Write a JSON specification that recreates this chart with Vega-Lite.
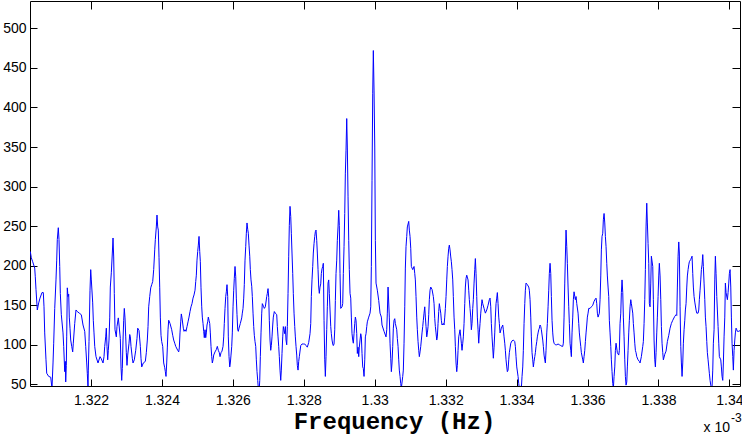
{
"$schema": "https://vega.github.io/schema/vega-lite/v6.json",
"width": 710, "height": 385,
"autosize": {"type": "none"},
"padding": {"left": 30, "top": 1, "right": 2, "bottom": 48},
"background": "white",
"config": {"view": {"stroke": null}, "axis": {"grid": false, "domainColor": "black", "tickColor": "black", "labelColor": "black", "titleColor": "black", "labelFont": "Liberation Sans", "labelFontSize": 14, "domainWidth": 1, "tickWidth": 1}},
"data": {"values": [
{"f":1.320288,"p":218},{"f":1.320317,"p":210},{"f":1.320356,"p":205},{"f":1.320413,"p":197},{"f":1.320429,"p":186},{"f":1.320449,"p":170},{"f":1.320486,"p":144},{"f":1.320525,"p":153},{"f":1.320562,"p":159},{"f":1.320618,"p":166},{"f":1.320655,"p":166},{"f":1.320675,"p":148},{"f":1.320695,"p":115},{"f":1.320731,"p":81},{"f":1.320751,"p":64},{"f":1.320807,"p":60},{"f":1.320864,"p":59},{"f":1.3209,"p":45},{"f":1.320929,"p":77},{"f":1.320948,"p":102},{"f":1.320977,"p":146},{"f":1.321013,"p":182},{"f":1.321033,"p":207},{"f":1.32105,"p":233},{"f":1.321078,"p":248},{"f":1.321098,"p":233},{"f":1.321118,"p":199},{"f":1.321135,"p":165},{"f":1.321163,"p":138},{"f":1.321211,"p":115},{"f":1.32123,"p":98},{"f":1.321259,"p":66},{"f":1.321276,"p":79},{"f":1.321287,"p":53},{"f":1.321304,"p":74},{"f":1.321315,"p":110},{"f":1.321332,"p":172},{"f":1.321352,"p":161},{"f":1.321371,"p":164},{"f":1.321388,"p":135},{"f":1.321408,"p":121},{"f":1.321428,"p":106},{"f":1.321456,"p":98},{"f":1.321484,"p":91},{"f":1.321501,"p":102},{"f":1.321541,"p":127},{"f":1.321577,"p":144},{"f":1.321614,"p":142},{"f":1.32167,"p":140},{"f":1.321727,"p":138},{"f":1.321775,"p":125},{"f":1.321823,"p":117},{"f":1.321851,"p":98},{"f":1.321879,"p":77},{"f":1.321896,"p":64},{"f":1.321916,"p":45},{"f":1.321924,"p":67},{"f":1.321944,"p":104},{"f":1.321972,"p":169},{"f":1.321992,"p":195},{"f":1.322009,"p":182},{"f":1.322048,"p":153},{"f":1.322065,"p":131},{"f":1.322085,"p":115},{"f":1.322105,"p":98},{"f":1.322141,"p":85},{"f":1.322198,"p":77},{"f":1.322254,"p":85},{"f":1.322282,"p":83},{"f":1.322339,"p":77},{"f":1.322367,"p":85},{"f":1.322387,"p":98},{"f":1.322415,"p":110},{"f":1.322432,"p":121},{"f":1.322451,"p":98},{"f":1.322471,"p":81},{"f":1.322488,"p":93},{"f":1.322508,"p":106},{"f":1.322528,"p":134},{"f":1.322545,"p":173},{"f":1.322573,"p":191},{"f":1.322601,"p":216},{"f":1.322621,"p":235},{"f":1.32264,"p":211},{"f":1.322657,"p":165},{"f":1.322677,"p":119},{"f":1.322714,"p":110},{"f":1.322733,"p":123},{"f":1.32277,"p":134},{"f":1.32279,"p":125},{"f":1.322827,"p":108},{"f":1.322846,"p":72},{"f":1.322866,"p":55},{"f":1.322883,"p":70},{"f":1.322903,"p":106},{"f":1.322922,"p":131},{"f":1.322939,"p":146},{"f":1.322959,"p":134},{"f":1.322979,"p":110},{"f":1.322996,"p":90},{"f":1.323015,"p":74},{"f":1.323035,"p":87},{"f":1.323072,"p":102},{"f":1.323092,"p":113},{"f":1.323109,"p":110},{"f":1.323128,"p":98},{"f":1.323165,"p":83},{"f":1.323185,"p":77},{"f":1.323221,"p":81},{"f":1.323261,"p":93},{"f":1.323297,"p":108},{"f":1.323317,"p":121},{"f":1.323354,"p":118},{"f":1.323391,"p":98},{"f":1.32341,"p":83},{"f":1.32343,"p":72},{"f":1.323475,"p":77},{"f":1.323532,"p":79},{"f":1.32356,"p":90},{"f":1.323588,"p":106},
{"f":1.323608,"p":123},{"f":1.323627,"p":148},{"f":1.323656,"p":161},{"f":1.323684,"p":172},{"f":1.323712,"p":176},{"f":1.32374,"p":180},{"f":1.323768,"p":195},{"f":1.323797,"p":220},{"f":1.323814,"p":233},{"f":1.323842,"p":249},{"f":1.323861,"p":264},{"f":1.323881,"p":249},{"f":1.323898,"p":245},{"f":1.323918,"p":210},{"f":1.323938,"p":172},{"f":1.323955,"p":135},{"f":1.323974,"p":112},{"f":1.323994,"p":104},{"f":1.324022,"p":98},{"f":1.32405,"p":77},{"f":1.324079,"p":71},{"f":1.324096,"p":66},{"f":1.324115,"p":60},{"f":1.324135,"p":77},{"f":1.324152,"p":96},{"f":1.324172,"p":119},{"f":1.324191,"p":131},{"f":1.324228,"p":127},{"f":1.324276,"p":119},{"f":1.324304,"p":112},{"f":1.324332,"p":106},{"f":1.324361,"p":102},{"f":1.324389,"p":98},{"f":1.324445,"p":93},{"f":1.324473,"p":91},{"f":1.32449,"p":96},{"f":1.32451,"p":115},{"f":1.32453,"p":129},{"f":1.324547,"p":139},{"f":1.324566,"p":134},{"f":1.324603,"p":121},{"f":1.324623,"p":117},{"f":1.324651,"p":119},{"f":1.324679,"p":117},{"f":1.324707,"p":123},{"f":1.324736,"p":129},{"f":1.324764,"p":135},{"f":1.324792,"p":142},{"f":1.32482,"p":148},{"f":1.324848,"p":152},{"f":1.324877,"p":159},{"f":1.324905,"p":163},{"f":1.324933,"p":169},{"f":1.324953,"p":180},{"f":1.32497,"p":188},{"f":1.324989,"p":207},{"f":1.325009,"p":218},{"f":1.325026,"p":226},{"f":1.325046,"p":237},{"f":1.325066,"p":218},{"f":1.325083,"p":205},{"f":1.325102,"p":172},{"f":1.325122,"p":148},{"f":1.325139,"p":135},{"f":1.325159,"p":127},{"f":1.325178,"p":117},{"f":1.325195,"p":109},{"f":1.325215,"p":119},{"f":1.325235,"p":109},{"f":1.325252,"p":115},{"f":1.325271,"p":125},{"f":1.325291,"p":129},{"f":1.325308,"p":135},{"f":1.325328,"p":131},{"f":1.325348,"p":127},{"f":1.325365,"p":115},{"f":1.325384,"p":98},{"f":1.325404,"p":85},{"f":1.325421,"p":77},{"f":1.325441,"p":81},{"f":1.32546,"p":87},{"f":1.325497,"p":91},{"f":1.325534,"p":94},{"f":1.325562,"p":98},{"f":1.32559,"p":93},{"f":1.325618,"p":90},{"f":1.325638,"p":85},{"f":1.325666,"p":90},{"f":1.325694,"p":92},{"f":1.325723,"p":98},{"f":1.325742,"p":110},{"f":1.325759,"p":127},{"f":1.325779,"p":146},{"f":1.325799,"p":161},{"f":1.325816,"p":167},{"f":1.325835,"p":176},{"f":1.325855,"p":161},{"f":1.325872,"p":110},{"f":1.325892,"p":85},{"f":1.325912,"p":72},{"f":1.325929,"p":77},{"f":1.325948,"p":87},{"f":1.325968,"p":98},{"f":1.325985,"p":115},{"f":1.326005,"p":148},{"f":1.326024,"p":169},{"f":1.326041,"p":184},{"f":1.326061,"p":199},{"f":1.326081,"p":186},{"f":1.326098,"p":159},{"f":1.326117,"p":138},{"f":1.326137,"p":119},{"f":1.326154,"p":117},{"f":1.326174,"p":121},{"f":1.326211,"p":127},{"f":1.32625,"p":134},{"f":1.326267,"p":140},{"f":1.326287,"p":146},{"f":1.326306,"p":159},{"f":1.326323,"p":176},{"f":1.326343,"p":207},{"f":1.326363,"p":224},{"f":1.32638,"p":241},{"f":1.326399,"p":254},{"f":1.326419,"p":246},{"f":1.326436,"p":241},{"f":1.326456,"p":226},{"f":1.326476,"p":212},{"f":1.326493,"p":195},{"f":1.326512,"p":182},{"f":1.326532,"p":174},{"f":1.326549,"p":161},{"f":1.326569,"p":140},{"f":1.326588,"p":123},{"f":1.326605,"p":112},{"f":1.326625,"p":104},{"f":1.326645,"p":98},{"f":1.326662,"p":81},{"f":1.326681,"p":66},{"f":1.326701,"p":55},{"f":1.326718,"p":45},{"f":1.326746,"p":45},{"f":1.326758,"p":55},{"f":1.326775,"p":85},{"f":1.326794,"p":115},{"f":1.326814,"p":140},{"f":1.326831,"p":152},{"f":1.32687,"p":148},{"f":1.326887,"p":146},
{"f":1.326916,"p":148},{"f":1.326955,"p":161},{"f":1.326972,"p":165},{"f":1.326992,"p":171},{"f":1.327011,"p":160},{"f":1.327028,"p":131},{"f":1.327048,"p":106},{"f":1.327068,"p":93},{"f":1.327085,"p":99},{"f":1.327104,"p":110},{"f":1.327124,"p":125},{"f":1.327141,"p":135},{"f":1.327169,"p":142},{"f":1.327198,"p":140},{"f":1.327237,"p":138},{"f":1.327254,"p":123},{"f":1.327274,"p":110},{"f":1.327293,"p":98},{"f":1.32731,"p":85},{"f":1.32733,"p":68},{"f":1.32735,"p":55},{"f":1.327367,"p":68},{"f":1.327386,"p":89},{"f":1.327406,"p":110},{"f":1.327423,"p":123},{"f":1.327463,"p":114},{"f":1.32748,"p":123},{"f":1.327499,"p":106},{"f":1.327519,"p":100},{"f":1.327536,"p":123},{"f":1.327556,"p":165},{"f":1.327575,"p":212},{"f":1.327592,"p":251},{"f":1.327612,"p":275},{"f":1.327632,"p":262},{"f":1.327649,"p":241},{"f":1.327668,"p":216},{"f":1.327688,"p":190},{"f":1.327705,"p":165},{"f":1.327725,"p":140},{"f":1.327745,"p":123},{"f":1.327762,"p":110},{"f":1.327781,"p":98},{"f":1.327801,"p":87},{"f":1.327818,"p":74},{"f":1.327838,"p":68},{"f":1.327857,"p":79},{"f":1.327874,"p":85},{"f":1.327914,"p":99},{"f":1.32795,"p":101},{"f":1.327987,"p":101},{"f":1.328027,"p":101},{"f":1.328063,"p":99},{"f":1.3281,"p":97},{"f":1.328139,"p":103},{"f":1.328176,"p":114},{"f":1.328196,"p":127},{"f":1.328213,"p":161},{"f":1.328232,"p":182},{"f":1.328252,"p":199},{"f":1.328269,"p":216},{"f":1.328289,"p":228},{"f":1.328309,"p":237},{"f":1.328326,"p":243},{"f":1.328345,"p":245},{"f":1.328365,"p":232},{"f":1.328382,"p":216},{"f":1.328402,"p":195},{"f":1.328421,"p":173},{"f":1.328438,"p":165},{"f":1.328458,"p":173},{"f":1.328478,"p":177},{"f":1.328495,"p":190},{"f":1.328514,"p":196},{"f":1.328534,"p":199},{"f":1.328551,"p":203},{"f":1.328571,"p":131},{"f":1.328591,"p":81},{"f":1.328608,"p":60},{"f":1.328627,"p":85},{"f":1.328647,"p":119},{"f":1.328664,"p":148},{"f":1.328684,"p":178},{"f":1.328703,"p":182},{"f":1.32872,"p":165},{"f":1.32874,"p":144},{"f":1.32876,"p":123},{"f":1.328777,"p":114},{"f":1.328796,"p":106},{"f":1.328816,"p":101},{"f":1.328833,"p":99},{"f":1.328853,"p":101},{"f":1.328873,"p":119},{"f":1.32889,"p":156},{"f":1.328909,"p":190},{"f":1.328929,"p":207},{"f":1.328946,"p":232},{"f":1.328966,"p":249},{"f":1.328985,"p":270},{"f":1.329002,"p":251},{"f":1.329022,"p":190},{"f":1.329042,"p":146},{"f":1.329078,"p":148},{"f":1.329098,"p":152},{"f":1.329115,"p":190},{"f":1.329135,"p":224},{"f":1.329155,"p":266},{"f":1.329172,"p":317},{"f":1.329191,"p":346},{"f":1.329211,"p":386},{"f":1.329228,"p":350},{"f":1.329248,"p":287},{"f":1.329267,"p":232},{"f":1.329284,"p":195},{"f":1.329304,"p":165},{"f":1.329324,"p":159},{"f":1.329341,"p":135},{"f":1.32936,"p":114},{"f":1.32938,"p":106},{"f":1.329397,"p":102},{"f":1.329417,"p":114},{"f":1.329437,"p":127},{"f":1.329454,"p":135},{"f":1.329473,"p":131},{"f":1.329493,"p":114},{"f":1.32951,"p":89},{"f":1.32953,"p":97},{"f":1.329549,"p":85},{"f":1.329566,"p":97},{"f":1.329586,"p":106},{"f":1.329606,"p":114},{"f":1.329623,"p":110},{"f":1.329642,"p":89},{"f":1.329662,"p":72},{"f":1.329679,"p":70},{"f":1.329699,"p":60},{"f":1.329719,"p":81},{"f":1.329736,"p":110},{"f":1.329755,"p":114},{"f":1.329775,"p":123},{"f":1.329792,"p":129},{"f":1.329831,"p":135},{"f":1.329868,"p":140},{"f":1.329888,"p":148},{"f":1.329905,"p":199},{"f":1.329924,"p":308},{"f":1.329944,"p":418},{"f":1.329961,"p":472},{"f":1.329981,"p":422},{"f":1.330001,"p":350},{"f":1.330018,"p":232},{"f":1.330037,"p":178},{"f":1.330074,"p":169},{"f":1.330113,"p":156},{"f":1.33015,"p":140},{"f":1.330187,"p":135},{"f":1.330206,"p":125},
{"f":1.330263,"p":117},{"f":1.330319,"p":110},{"f":1.330339,"p":119},{"f":1.330356,"p":140},{"f":1.330376,"p":173},{"f":1.330412,"p":135},{"f":1.330432,"p":102},{"f":1.330452,"p":83},{"f":1.330469,"p":66},{"f":1.330488,"p":77},{"f":1.330508,"p":98},{"f":1.330525,"p":121},{"f":1.330545,"p":131},{"f":1.330565,"p":133},{"f":1.330582,"p":127},{"f":1.330621,"p":119},{"f":1.330638,"p":108},{"f":1.330658,"p":98},{"f":1.330677,"p":81},{"f":1.330694,"p":68},{"f":1.330714,"p":60},{"f":1.330734,"p":51},{"f":1.330751,"p":45},{"f":1.33079,"p":60},{"f":1.330807,"p":68},{"f":1.330827,"p":102},{"f":1.330847,"p":148},{"f":1.330864,"p":197},{"f":1.330883,"p":224},{"f":1.330903,"p":237},{"f":1.33092,"p":249},{"f":1.330959,"p":256},{"f":1.330976,"p":245},{"f":1.330996,"p":237},{"f":1.331016,"p":222},{"f":1.331033,"p":199},{"f":1.331072,"p":195},{"f":1.331109,"p":199},{"f":1.331129,"p":190},{"f":1.331146,"p":182},{"f":1.331165,"p":161},{"f":1.331185,"p":135},{"f":1.331202,"p":119},{"f":1.331222,"p":104},{"f":1.331241,"p":93},{"f":1.331258,"p":85},{"f":1.331278,"p":91},{"f":1.331298,"p":98},{"f":1.331315,"p":106},{"f":1.331334,"p":115},{"f":1.331354,"p":123},{"f":1.331371,"p":131},{"f":1.331391,"p":140},{"f":1.331411,"p":148},{"f":1.331428,"p":135},{"f":1.331447,"p":123},{"f":1.331467,"p":110},{"f":1.331484,"p":115},{"f":1.331504,"p":123},{"f":1.331523,"p":138},{"f":1.33154,"p":157},{"f":1.33156,"p":169},{"f":1.33158,"p":173},{"f":1.331616,"p":170},{"f":1.331653,"p":161},{"f":1.331673,"p":152},{"f":1.331693,"p":133},{"f":1.33171,"p":123},{"f":1.331729,"p":115},{"f":1.331749,"p":106},{"f":1.331766,"p":110},{"f":1.331786,"p":127},{"f":1.331805,"p":142},{"f":1.331822,"p":152},{"f":1.331842,"p":146},{"f":1.331862,"p":140},{"f":1.331879,"p":131},{"f":1.331898,"p":125},{"f":1.331935,"p":127},{"f":1.331955,"p":125},{"f":1.331975,"p":135},{"f":1.331992,"p":146},{"f":1.332011,"p":161},{"f":1.332031,"p":182},{"f":1.332048,"p":199},{"f":1.332068,"p":212},{"f":1.332087,"p":222},{"f":1.332104,"p":226},{"f":1.332124,"p":220},{"f":1.332144,"p":211},{"f":1.332161,"p":205},{"f":1.33218,"p":195},{"f":1.3322,"p":182},{"f":1.332217,"p":161},{"f":1.332237,"p":135},{"f":1.332257,"p":119},{"f":1.332274,"p":98},{"f":1.332293,"p":77},{"f":1.332313,"p":66},{"f":1.33233,"p":74},{"f":1.33235,"p":93},{"f":1.332369,"p":110},{"f":1.332406,"p":119},{"f":1.332426,"p":110},{"f":1.332443,"p":102},{"f":1.332462,"p":93},{"f":1.332482,"p":102},{"f":1.332499,"p":110},{"f":1.332519,"p":127},{"f":1.332539,"p":152},{"f":1.332556,"p":173},{"f":1.332575,"p":184},{"f":1.332595,"p":188},{"f":1.332632,"p":182},{"f":1.332651,"p":169},{"f":1.332668,"p":157},{"f":1.332688,"p":146},{"f":1.332708,"p":135},{"f":1.332725,"p":119},{"f":1.332744,"p":127},{"f":1.332764,"p":146},{"f":1.332781,"p":157},{"f":1.332801,"p":178},{"f":1.332821,"p":195},{"f":1.332838,"p":209},{"f":1.332857,"p":190},{"f":1.332877,"p":161},{"f":1.332894,"p":135},{"f":1.332914,"p":119},{"f":1.332933,"p":102},{"f":1.33295,"p":115},{"f":1.33297,"p":127},{"f":1.33299,"p":140},{"f":1.333007,"p":148},{"f":1.333026,"p":157},{"f":1.333046,"p":152},{"f":1.333083,"p":146},{"f":1.33312,"p":140},{"f":1.333159,"p":144},{"f":1.333196,"p":150},{"f":1.333232,"p":157},{"f":1.333252,"p":159},{"f":1.333272,"p":148},{"f":1.333289,"p":127},{"f":1.333308,"p":110},{"f":1.333328,"p":96},{"f":1.333345,"p":83},{"f":1.333365,"p":97},{"f":1.333385,"p":115},{"f":1.333402,"p":135},{"f":1.333421,"p":152},{"f":1.333441,"p":159},{"f":1.333458,"p":166},{"f":1.333478,"p":152},{"f":1.333497,"p":135},{"f":1.333514,"p":127},{"f":1.333534,"p":115},{"f":1.333571,"p":121},
{"f":1.33361,"p":125},{"f":1.333627,"p":119},{"f":1.333647,"p":110},{"f":1.333667,"p":102},{"f":1.333684,"p":93},{"f":1.333703,"p":81},{"f":1.333723,"p":72},{"f":1.33374,"p":66},{"f":1.33376,"p":68},{"f":1.333779,"p":81},{"f":1.333796,"p":90},{"f":1.333816,"p":96},{"f":1.333836,"p":102},{"f":1.333872,"p":105},{"f":1.333909,"p":106},{"f":1.333949,"p":104},{"f":1.333966,"p":98},{"f":1.333985,"p":85},{"f":1.334005,"p":72},{"f":1.334042,"p":60},{"f":1.334061,"p":51},{"f":1.334078,"p":45},{"f":1.334118,"p":48},{"f":1.334135,"p":45},{"f":1.334154,"p":60},{"f":1.334174,"p":72},{"f":1.334191,"p":93},{"f":1.334211,"p":127},{"f":1.334231,"p":152},{"f":1.334248,"p":169},{"f":1.334267,"p":178},{"f":1.334304,"p":176},{"f":1.334343,"p":173},{"f":1.33436,"p":169},{"f":1.33438,"p":157},{"f":1.3344,"p":135},{"f":1.334417,"p":110},{"f":1.334436,"p":90},{"f":1.334456,"p":81},{"f":1.334473,"p":72},{"f":1.334493,"p":79},{"f":1.334513,"p":85},{"f":1.33453,"p":90},{"f":1.334549,"p":98},{"f":1.334569,"p":104},{"f":1.334586,"p":110},{"f":1.334606,"p":115},{"f":1.334625,"p":119},{"f":1.334642,"p":121},{"f":1.334662,"p":125},{"f":1.334682,"p":123},{"f":1.334699,"p":119},{"f":1.334738,"p":106},{"f":1.334755,"p":98},{"f":1.334775,"p":87},{"f":1.334795,"p":81},{"f":1.334812,"p":77},{"f":1.334831,"p":93},{"f":1.334851,"p":115},{"f":1.334868,"p":127},{"f":1.334888,"p":148},{"f":1.334907,"p":169},{"f":1.334924,"p":190},{"f":1.334944,"p":203},{"f":1.334964,"p":190},{"f":1.334981,"p":161},{"f":1.335,"p":131},{"f":1.33502,"p":115},{"f":1.335037,"p":106},{"f":1.335057,"p":102},{"f":1.335094,"p":100},{"f":1.335133,"p":100},{"f":1.33517,"p":101},{"f":1.335206,"p":100},{"f":1.335246,"p":99},{"f":1.335282,"p":98},{"f":1.335302,"p":98},{"f":1.335319,"p":102},{"f":1.335339,"p":135},{"f":1.335359,"p":178},{"f":1.335376,"p":211},{"f":1.335395,"p":245},{"f":1.335415,"p":224},{"f":1.335432,"p":203},{"f":1.335452,"p":173},{"f":1.335471,"p":148},{"f":1.335488,"p":127},{"f":1.335508,"p":102},{"f":1.335528,"p":93},{"f":1.335545,"p":85},{"f":1.335564,"p":115},{"f":1.335584,"p":135},{"f":1.335601,"p":157},{"f":1.335621,"p":167},{"f":1.335641,"p":161},{"f":1.335658,"p":157},{"f":1.335677,"p":161},{"f":1.335697,"p":152},{"f":1.335734,"p":140},{"f":1.335753,"p":127},{"f":1.33577,"p":115},{"f":1.33579,"p":106},{"f":1.33581,"p":98},{"f":1.335827,"p":90},{"f":1.335866,"p":81},{"f":1.335883,"p":77},{"f":1.335903,"p":85},{"f":1.335923,"p":93},{"f":1.33594,"p":104},{"f":1.335959,"p":115},{"f":1.335979,"p":125},{"f":1.335996,"p":135},{"f":1.336016,"p":140},{"f":1.336035,"p":146},{"f":1.336072,"p":146},{"f":1.336109,"p":148},{"f":1.336148,"p":150},{"f":1.336185,"p":155},{"f":1.336222,"p":158},{"f":1.336241,"p":159},{"f":1.336261,"p":152},{"f":1.336278,"p":140},{"f":1.336298,"p":135},{"f":1.336334,"p":140},{"f":1.336354,"p":157},{"f":1.336374,"p":187},{"f":1.336391,"p":220},{"f":1.33641,"p":237},{"f":1.33643,"p":241},{"f":1.336447,"p":258},{"f":1.336467,"p":266},{"f":1.336487,"p":254},{"f":1.336504,"p":237},{"f":1.336523,"p":224},{"f":1.336543,"p":203},{"f":1.33656,"p":187},{"f":1.33658,"p":173},{"f":1.336599,"p":161},{"f":1.336616,"p":131},{"f":1.336636,"p":115},{"f":1.336656,"p":98},{"f":1.336673,"p":81},{"f":1.336692,"p":66},{"f":1.336712,"p":51},{"f":1.336729,"p":45},{"f":1.336749,"p":60},{"f":1.336769,"p":72},{"f":1.336786,"p":93},{"f":1.336805,"p":102},{"f":1.336842,"p":90},{"f":1.336881,"p":87},
{"f":1.336898,"p":93},{"f":1.336918,"p":127},{"f":1.336938,"p":140},{"f":1.336955,"p":166},{"f":1.336974,"p":182},{"f":1.336994,"p":166},{"f":1.337011,"p":135},{"f":1.337031,"p":110},{"f":1.337051,"p":81},{"f":1.337068,"p":60},{"f":1.337087,"p":49},{"f":1.337107,"p":53},{"f":1.337124,"p":72},{"f":1.337144,"p":93},{"f":1.337163,"p":115},{"f":1.33718,"p":131},{"f":1.3372,"p":148},{"f":1.33722,"p":157},{"f":1.337237,"p":152},{"f":1.337276,"p":140},{"f":1.337293,"p":127},{"f":1.337313,"p":115},{"f":1.337333,"p":102},{"f":1.33735,"p":93},{"f":1.337369,"p":90},{"f":1.337389,"p":85},{"f":1.337426,"p":81},{"f":1.337462,"p":79},{"f":1.337482,"p":77},{"f":1.337519,"p":85},{"f":1.337558,"p":98},{"f":1.337575,"p":104},{"f":1.337595,"p":127},{"f":1.337615,"p":157},{"f":1.337632,"p":195},{"f":1.337651,"p":249},{"f":1.337671,"p":279},{"f":1.337688,"p":254},{"f":1.337708,"p":228},{"f":1.337727,"p":203},{"f":1.337744,"p":152},{"f":1.337764,"p":148},{"f":1.337784,"p":178},{"f":1.337801,"p":212},{"f":1.33784,"p":199},{"f":1.337857,"p":157},{"f":1.337877,"p":106},{"f":1.337897,"p":81},{"f":1.337914,"p":72},{"f":1.337933,"p":90},{"f":1.337953,"p":115},{"f":1.33797,"p":135},{"f":1.33799,"p":161},{"f":1.338009,"p":187},{"f":1.338026,"p":203},{"f":1.338046,"p":187},{"f":1.338066,"p":157},{"f":1.338083,"p":123},{"f":1.338102,"p":102},{"f":1.338122,"p":90},{"f":1.338139,"p":81},{"f":1.338179,"p":88},{"f":1.338215,"p":92},{"f":1.338252,"p":104},{"f":1.338291,"p":112},{"f":1.338328,"p":121},{"f":1.338365,"p":127},{"f":1.338404,"p":131},{"f":1.338461,"p":136},{"f":1.338497,"p":138},{"f":1.338517,"p":137},{"f":1.338534,"p":173},{"f":1.338554,"p":212},{"f":1.338573,"p":230},{"f":1.33859,"p":216},{"f":1.33861,"p":148},{"f":1.33863,"p":98},{"f":1.338647,"p":77},{"f":1.338666,"p":60},{"f":1.338686,"p":77},{"f":1.338703,"p":102},{"f":1.338723,"p":119},{"f":1.338743,"p":131},{"f":1.33876,"p":144},{"f":1.338779,"p":152},{"f":1.338799,"p":173},{"f":1.338816,"p":187},{"f":1.338836,"p":195},{"f":1.338855,"p":201},{"f":1.338872,"p":205},{"f":1.338912,"p":208},{"f":1.338948,"p":212},{"f":1.338968,"p":190},{"f":1.338985,"p":173},{"f":1.339005,"p":161},{"f":1.339025,"p":154},{"f":1.339061,"p":144},{"f":1.339081,"p":140},{"f":1.339118,"p":140},{"f":1.339137,"p":144},{"f":1.339154,"p":157},{"f":1.339174,"p":169},{"f":1.339194,"p":182},{"f":1.339211,"p":195},{"f":1.33923,"p":201},{"f":1.33925,"p":214},{"f":1.339267,"p":199},{"f":1.339287,"p":178},{"f":1.339307,"p":157},{"f":1.339324,"p":135},{"f":1.339343,"p":123},{"f":1.339363,"p":104},{"f":1.33938,"p":90},{"f":1.3394,"p":81},{"f":1.339419,"p":72},{"f":1.339436,"p":64},{"f":1.339456,"p":55},{"f":1.339476,"p":49},{"f":1.339493,"p":45},{"f":1.339512,"p":47},{"f":1.339532,"p":68},{"f":1.339549,"p":102},{"f":1.339569,"p":119},{"f":1.339589,"p":182},{"f":1.339606,"p":212},{"f":1.339625,"p":190},{"f":1.339645,"p":161},{"f":1.339662,"p":144},{"f":1.339682,"p":123},{"f":1.339701,"p":102},{"f":1.339718,"p":85},{"f":1.339758,"p":81},{"f":1.339775,"p":72},{"f":1.339794,"p":60},{"f":1.339814,"p":55},{"f":1.339831,"p":77},{"f":1.339851,"p":110},{"f":1.339871,"p":135},{"f":1.339888,"p":178},{"f":1.339907,"p":166},{"f":1.339944,"p":157},{"f":1.339964,"p":166},{"f":1.339983,"p":178},{"f":1.34,"p":190},{"f":1.34002,"p":195},{"f":1.34004,"p":173},{"f":1.340057,"p":135},{"f":1.340076,"p":102},{"f":1.340096,"p":85},{"f":1.340113,"p":68},{"f":1.340133,"p":93},{"f":1.340153,"p":106},{"f":1.34017,"p":115},{"f":1.340189,"p":121},{"f":1.340209,"p":119},{"f":1.340226,"p":117},{"f":1.340265,"p":117},{"f":1.340302,"p":118}
]},
"layer": [
{"mark": {"type": "line", "color": "#0000ff", "strokeWidth": 1, "clip": true},
 "encoding": {
  "x": {"field": "f", "type": "quantitative", "scale": {"domain": [1.32028, 1.3403], "nice": false, "zero": false},
    "axis": {"orient": "bottom", "values": [1.322, 1.324, 1.326, 1.328, 1.33, 1.332, 1.334, 1.336, 1.338, 1.34], "format": "~g", "tickSize": -7, "labelPadding": 14, "title": "Frequency (Hz)", "titleFont": "Liberation Mono", "titleFontSize": 24, "titleFontWeight": "bold", "titleBaseline": "alphabetic", "titleY": 42, "titleX": 364}},
  "y": {"field": "p", "type": "quantitative", "scale": {"domain": [47.9, 534.6], "nice": false, "zero": false},
    "axis": {"orient": "left", "values": [50, 100, 150, 200, 250, 300, 350, 400, 450, 500], "format": "d", "tickSize": -7, "labelPadding": 11, "title": null}}
 }},
{"mark": {"type": "line", "opacity": 0},
 "encoding": {
  "x": {"field": "f", "type": "quantitative", "axis": {"orient": "top", "values": [1.322, 1.324, 1.326, 1.328, 1.33, 1.332, 1.334, 1.336, 1.338, 1.34], "labels": false, "tickSize": -8, "title": null}},
  "y": {"field": "p", "type": "quantitative", "axis": {"orient": "right", "values": [50, 100, 150, 200, 250, 300, 350, 400, 450, 500], "labels": false, "tickSize": -8, "title": null}}
 }},
{"data": {"values": [{"t": "x 10"}]},
 "mark": {"type": "text", "align": "right", "baseline": "alphabetic", "dx": -10, "dy": 46, "font": "Liberation Sans", "fontSize": 14, "color": "black", "clip": false},
 "encoding": {"text": {"field": "t"}, "x": {"datum": 1.3403, "type": "quantitative", "axis": null}, "y": {"datum": 47.9, "type": "quantitative", "axis": null}}},
{"data": {"values": [{"t": "-3"}]},
 "mark": {"type": "text", "align": "left", "baseline": "alphabetic", "dx": -9, "dy": 36, "font": "Liberation Sans", "fontSize": 12, "color": "black", "clip": false},
 "encoding": {"text": {"field": "t"}, "x": {"datum": 1.3403, "type": "quantitative", "axis": null}, "y": {"datum": 47.9, "type": "quantitative", "axis": null}}}
],
"resolve": {"axis": {"x": "independent", "y": "independent"}}
}
